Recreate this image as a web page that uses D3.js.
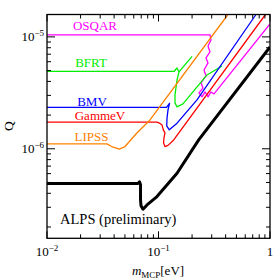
<!DOCTYPE html>
<html><head><meta charset="utf-8">
<script src="https://cdn.jsdelivr.net/npm/d3@7"></script>
<style>body{margin:0;background:#fff}svg{display:block}text{font-family:"Liberation Serif","Times New Roman",serif}</style>
</head><body>
<script>
// ---- data (mass in eV, Q) ----
const xTickValues = [0.01, 0.1, 1];
const xTickExps = ["−2", "−1", ""];
const yTickValues = [1e-6, 1e-5];
const yTickExps = ["−6", "−5"];

const alps = [[0.01,4.9e-7],[0.0655,4.9e-7],[0.0676,5.06e-7],[0.069,4.77e-7],[0.069,3.5e-7],[0.0697,3.09e-7],[0.0726,2.88e-7],[0.0789,3.15e-7],[0.0969,3.74e-7],[0.1466,6.05e-7],[0.2294,1.2e-6],[1,8.13e-6]];
const lipss = [[0.01,1.107e-6],[0.0345,1.107e-6],[0.038,1.047e-6],[0.0445,9.92e-7],[0.0501,1.047e-6],[0.0637,1.377e-6],[0.0839,1.81e-6],[0.42,1.585e-5]];
const gammev = [[0.01,1.728e-6],[0.0969,1.728e-6],[0.1031,1.686e-6],[0.1075,1.634e-6],[0.1104,1.476e-6],[0.1143,1.387e-6],[0.112,1.251e-6],[0.1109,1.13e-6],[0.1143,1.047e-6],[0.1217,1.072e-6],[0.1369,1.2e-6],[0.911,1.585e-5]];
const bmv = [[0.01,2.344e-6],[0.118,2.344e-6],[0.1256,2.55e-6],[0.1217,2.225e-6],[0.1192,1.876e-6],[0.1185,1.601e-6],[0.125,1.476e-6],[0.1466,1.694e-6],[0.2215,2.733e-6],[0.7487,1.585e-5]];
const bfrt = [[0.01,4.91e-6],[0.1377,4.91e-6],[0.1466,5.27e-6],[0.1527,4.86e-6],[0.1466,4.12e-6],[0.1406,3.03e-6],[0.1406,2.57e-6],[0.1466,2.366e-6],[0.1658,2.518e-6],[0.2723,4.57e-6],[0.371,5.5e-6]];
const bfrtUpper = [[0.1527,4.86e-6],[0.2,6.7e-6]];
const osqar = [[0.01,1.04e-5],[0.2897,1.04e-5],[0.2957,9.38e-6],[0.278,8.29e-6],[0.2897,7.33e-6],[0.2667,6.48e-6],[0.278,5.85e-6],[0.2559,5.06e-6],[0.2667,4.48e-6],[0.2405,3.88e-6],[0.2507,3.5e-6],[0.2307,3.155e-6],[0.2455,2.907e-6],[0.2612,3.22e-6],[0.278,2.907e-6],[0.2957,3.22e-6],[0.3146,3.09e-6],[1,1.304e-5]];

const series = [
  {name:"OSQAR", data:osqar, color:"#ff00ff", w:1.3, lx:95, ly:30},
  {name:"BFRT", data:bfrt, color:"#00ee00", w:1.3, lx:91, ly:66.5},
  {name:"BFRT2", data:bfrtUpper, color:"#00ee00", w:1.3},
  {name:"BMV", data:bmv, color:"#0000ff", w:1.3, lx:92, ly:106},
  {name:"GammeV", data:gammev, color:"#ff0000", w:1.3, lx:100, ly:120},
  {name:"LIPSS", data:lipss, color:"#ff8000", w:1.3, lx:91.5, ly:141},
  {name:"ALPS", data:alps, color:"#000000", w:3}
];

const W=274,H=280, L=47, R=270, T=14.5, B=238.3;
const svg=d3.select("body").append("svg").attr("width",W).attr("height",H);
const x=d3.scaleLog().domain([0.01,1]).range([L,R]);
const y=d3.scaleLog().domain([Math.pow(10,-6.8),Math.pow(10,-4.8)]).range([B,T]);

svg.append("clipPath").attr("id","clip").append("rect").attr("x",L).attr("y",T).attr("width",R-L).attr("height",B-T);
const line=d3.line().x(d=>x(d[0])).y(d=>y(d[1]));
const g=svg.append("g").attr("clip-path","url(#clip)");
series.forEach(s=>{
  g.append("path").datum(s.data).attr("d",line).attr("fill","none").attr("stroke",s.color).attr("stroke-width",s.w).attr("stroke-linejoin","round");
});
series.filter(s=>s.lx).forEach(s=>{
  svg.append("text").attr("x",s.lx).attr("y",s.ly).attr("text-anchor","middle").attr("fill",s.color).attr("font-size",13).text(s.name);
});
svg.append("text").attr("x",60).attr("y",224).attr("font-size",14.5).attr("fill","#000").text("ALPS (preliminary)");

// axes
const xMinor=[];for(let e=-2;e<0;e++)for(let k=1;k<10;k++)xMinor.push(k*Math.pow(10,e));xMinor.push(1);
const yMinor=[];for(let e=-7;e<-4;e++)for(let k=1;k<10;k++){const v=k*Math.pow(10,e);if(v>=y.domain()[0]&&v<=y.domain()[1])yMinor.push(v);}
const ax=svg.append("g").attr("stroke","#000").attr("stroke-width",1);
xMinor.forEach(v=>{const major=xTickValues.includes(v);const len=major?7:4;const px=x(v);
  ax.append("line").attr("x1",px).attr("x2",px).attr("y1",B).attr("y2",B-len);
  ax.append("line").attr("x1",px).attr("x2",px).attr("y1",T).attr("y2",T+len);});
yMinor.forEach(v=>{const major=yTickValues.some(t=>Math.abs(t-v)/t<1e-6);const len=major?8:4;const py=y(v);
  ax.append("line").attr("x1",L).attr("x2",L+len).attr("y1",py).attr("y2",py);
  ax.append("line").attr("x1",R).attr("x2",R-len).attr("y1",py).attr("y2",py);});
svg.append("rect").attr("x",L).attr("y",T).attr("width",R-L).attr("height",B-T).attr("fill","none").attr("stroke","#000").attr("stroke-width",1.3);

xTickValues.forEach((v,i)=>{
  const t=svg.append("text").attr("x",x(v)).attr("y",256).attr("text-anchor","middle").attr("font-size",13);
  if(xTickExps[i]){t.append("tspan").text("10");t.append("tspan").attr("dy",-5).attr("font-size",9).text(xTickExps[i]);}
  else t.text("1");
});
yTickValues.forEach((v,i)=>{
  const t=svg.append("text").attr("x",L-3).attr("y",y(v)+4).attr("text-anchor","end").attr("font-size",13);
  t.append("tspan").text("10");t.append("tspan").attr("dy",-5).attr("font-size",9).text(yTickExps[i]);
});
const xl=svg.append("text").attr("x",158).attr("y",274.5).attr("text-anchor","middle").attr("font-size",13);
xl.append("tspan").attr("font-style","italic").text("m");
xl.append("tspan").attr("dy",3).attr("font-size",9).text("MCP");
xl.append("tspan").attr("dy",-3).text("[eV]");
svg.append("text").attr("transform","translate(13,126) rotate(-90)").attr("text-anchor","middle").attr("font-size",13.5).text("Q");
</script>
</body></html>
